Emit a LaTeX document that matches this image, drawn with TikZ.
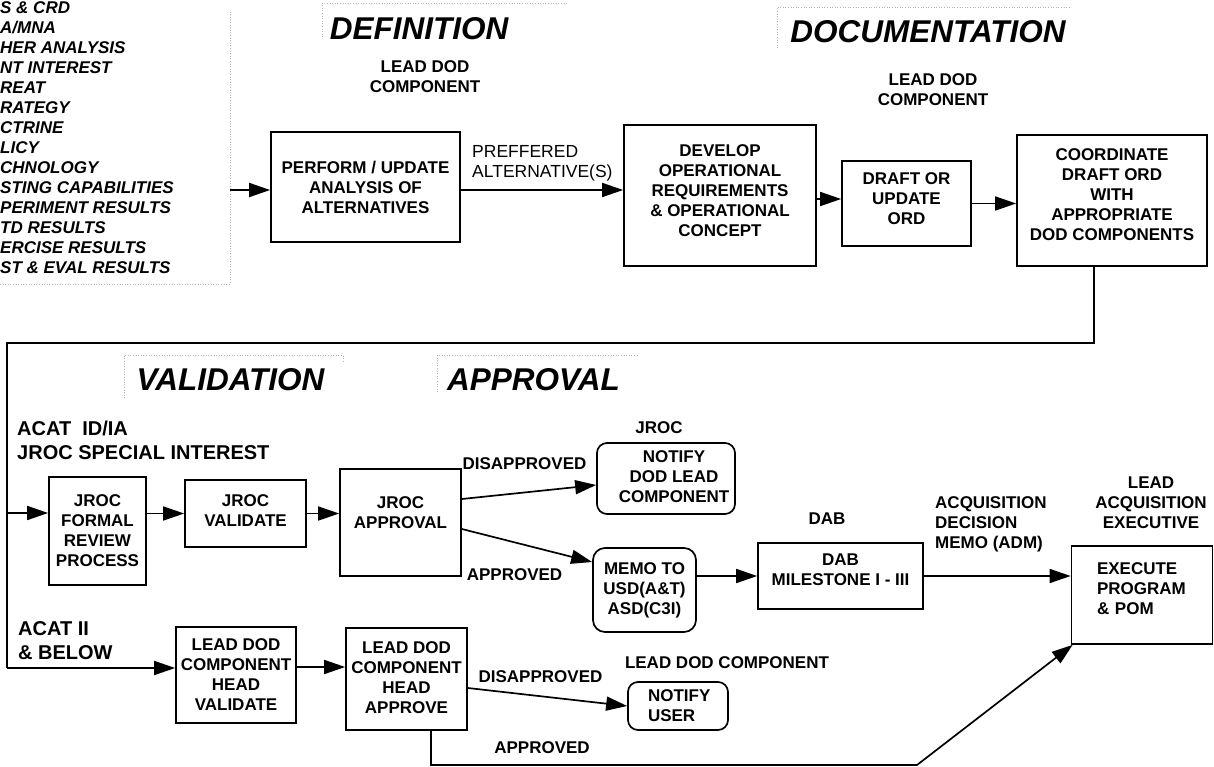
\documentclass[tikz,border=0pt]{standalone}
\usepackage{fontspec}
\setmainfont{Liberation Sans}
\usetikzlibrary{arrows.meta,calc}
\newcommand\mybxf{\fontsize{17}{20}\selectfont\bfseries}
\newcommand\myregf{\fontsize{17.5}{20}\selectfont}
\newcommand\mybigf{\fontsize{20}{24}\selectfont\bfseries}
\newcommand\myttlf{\fontsize{31.5}{36}\selectfont\bfseries\itshape}
\newcommand\mylstf{\fontsize{17}{20}\selectfont\bfseries\itshape}
\tikzset{
  box/.style={draw, line width=1.7pt, inner sep=0pt, align=center, font=\mybxf},
  rbox/.style={box, rounded corners=10pt},
  txtup/.style={execute at end node={\rule[-#1]{0pt}{0pt}}},
  lbl/.style={inner sep=0pt, align=center, font=\mybxf},
  arr/.style={line width=1.7pt, -{Triangle[length=21pt,width=14pt]}},
  ln/.style={line width=1.7pt},
  ttl/.style={inner sep=0pt, font=\myttlf},
  lst/.style={inner sep=0pt, font=\mylstf, anchor=base west},
  frm/.style={black!30, dotted, line width=0.6pt},
}
\begin{document}
\begin{tikzpicture}[x=1pt,y=-1pt]
\useasboundingbox (0,0) rectangle (1214,767);

% faint frames
\draw[frm] (0,284) -- (230,284) -- (230,12);
\draw[frm] (322,37) -- (322,3) -- (567,3);
\draw[frm] (777,48) -- (777,7) -- (1071,7);
\draw[frm] (124,398) -- (124,355) -- (343,355) -- (343,362);
\draw[frm] (437,392) -- (437,355) -- (637,355);

% input list (cut at the left edge)
\node[lst] (l1) at (0,13.3) {S \& CRD};
\node[lst] (l2) at (0,33.3) {A/MNA};
\node[lst] (l3) at (0,53.3) {HER ANALYSIS};
\node[lst] (l4) at (0,73.3) {NT INTEREST};
\node[lst] (l5) at (0,93.3) {REAT};
\node[lst] (l6) at (0,113.3) {RATEGY};
\node[lst] (l7) at (0,133.3) {CTRINE};
\node[lst] (l8) at (0,153.3) {LICY};
\node[lst] (l9) at (0,173.3) {CHNOLOGY};
\node[lst] (l10) at (0,193.3) {STING CAPABILITIES};
\node[lst] (l11) at (0,213.3) {PERIMENT RESULTS};
\node[lst] (l12) at (0,233.3) {TD RESULTS};
\node[lst] (l13) at (0,253.3) {ERCISE RESULTS};
\node[lst] (l14) at (0,273.3) {ST \& EVAL RESULTS};

% titles
\node[ttl] (tdef) at (419,28.5) {DEFINITION};
\node[ttl] (tdoc) at (928,32) {DOCUMENTATION};
\node[ttl] (tval) at (230.5,380) {VALIDATION};
\node[ttl] (tapp) at (533.5,380) {APPROVAL};

% top row
\node[box, minimum width=189pt, minimum height=110pt] (perf) at (365.5,187) {PERFORM / UPDATE\\ANALYSIS OF\\ALTERNATIVES};
\node[box, txtup=9pt, minimum width=192pt, minimum height=141pt] (dev) at (720,195.5) {DEVELOP\\OPERATIONAL\\REQUIREMENTS\\\& OPERATIONAL\\CONCEPT};
\node[box, txtup=9pt, minimum width=129pt, minimum height=85pt] (draft) at (906.5,203.5) {DRAFT OR\\UPDATE\\ORD};
\node[box, txtup=11pt, minimum width=190pt, minimum height=131pt] (coord) at (1112,200.5) {COORDINATE\\DRAFT ORD\\WITH\\APPROPRIATE\\DOD COMPONENTS};

% middle row
\node[box, minimum width=97pt, minimum height=108pt] (formal) at (97.5,531) {JROC\\FORMAL\\REVIEW\\PROCESS};
\node[box, txtup=5pt, minimum width=121pt, minimum height=67pt] (jval) at (245.5,513.5) {JROC\\VALIDATE};
\node[box, txtup=20pt, minimum width=121pt, minimum height=107pt] (jappr) at (400.5,522.5) {JROC\\APPROVAL};
\node[rbox, txtup=3pt, minimum width=138pt, minimum height=71pt] (notdod) at (666,478.5) {\hspace*{16pt}NOTIFY\\\hspace*{16pt}DOD LEAD\\\hspace*{16pt}COMPONENT};
\node[rbox, rounded corners=12pt, txtup=2pt, minimum width=103pt, minimum height=84pt] (memo) at (644.5,590) {MEMO TO\\USD(A\&T)\\ASD(C3I)};
\node[box, txtup=12pt, minimum width=165pt, minimum height=66pt] (dab) at (840.5,576) {DAB\\MILESTONE I - III};
\node[box, txtup=12pt, align=left, text width=90pt, minimum width=141pt, minimum height=98pt] (exec) at (1142,595) {EXECUTE\\PROGRAM\\\& POM};

% bottom row
\node[box, minimum width=120pt, minimum height=96pt] (lval) at (236,675) {LEAD DOD\\COMPONENT\\HEAD\\VALIDATE};
\node[box, txtup=2pt, minimum width=121pt, minimum height=102pt] (lappr) at (406.5,679) {LEAD DOD\\COMPONENT\\HEAD\\APPROVE};
\node[rbox, align=left, text width=60pt, minimum width=100pt, minimum height=48pt] (notuser) at (678,706) {NOTIFY\\USER};

% labels
\node[lbl] (ldc1) at (425,77) {LEAD DOD\\COMPONENT};
\node[lbl] (ldc2) at (933,90) {LEAD DOD\\COMPONENT};
\node[lbl, font=\myregf, anchor=west, align=left] (pref) at (472,163) {PREFFERED\\ALTERNATIVE(S)};
\node[lbl, font=\mybigf, anchor=west, align=left] (acat1) at (17,440) {ACAT\ \ ID/IA\\JROC SPECIAL INTEREST};
\node[lbl, font=\mybigf, anchor=west, align=left] (acat2) at (18,640.5) {ACAT II\\\& BELOW};
\node[lbl] (dis1) at (524.5,464) {DISAPPROVED};
\node[lbl] (app1) at (514.5,575) {APPROVED};
\node[lbl] (jrocl) at (659,428) {JROC};
\node[lbl] (dabl) at (827,519) {DAB};
\node[lbl, anchor=west, align=left] (adm) at (935,524) {ACQUISITION\\DECISION\\MEMO (ADM)};
\node[lbl] (lae) at (1151,503) {LEAD\\ACQUISITION\\EXECUTIVE};
\node[lbl] (ldc3) at (727,663) {LEAD DOD COMPONENT};
\node[lbl] (dis2) at (540.5,677) {DISAPPROVED};
\node[lbl] (app2) at (542,748) {APPROVED};

% coordinates for the routed lines
\coordinate (inlist) at (230,190);
\coordinate (lt) at (7,343);
\coordinate (lm) at (7,513);
\coordinate (lb) at (7,668);
\coordinate (bl) at (431,765);
\coordinate (br) at (917,765);

% connectors, top row
\draw[arr] (inlist) -- (inlist -| perf.west);
\draw[arr] ([yshift=-3pt]perf.east) -- ([yshift=-3pt]perf.east -| dev.west);
\draw[arr] ([yshift=-3.5pt]dev.east) -- ([yshift=-3.5pt]dev.east -| draft.west);
\draw[arr] (draft.east) -- (draft.east -| coord.west);
\draw[ln] ([xshift=-18pt]coord.south) |- (lt) -- (lb);

% middle row
\draw[arr] (lm) -- (lm -| formal.west);
\draw[arr] (jval.west -| formal.east) -- (jval.west);
\draw[arr] (jval.east) -- (jval.east -| jappr.west);
\draw[arr] ([yshift=23.5pt]jappr.east) -- ([yshift=-6.5pt]notdod.west);
\draw[arr] ([yshift=-6.5pt]jappr.east) -- ([yshift=28pt]memo.west);
\draw[arr] (dab.west -| memo.east) -- (dab.west);
\draw[arr] (dab.east) -- (dab.east -| exec.west);

% bottom row
\draw[arr] (lb) -- (lb -| lval.west);
\draw[arr] ([yshift=8pt]lval.east) -- ([yshift=8pt]lval.east -| lappr.west);
\draw[arr] ([yshift=-9pt]lappr.east) -- (notuser.west);
\draw[arr] ([xshift=24.5pt]lappr.south) -- (bl) -- (br) -- ([xshift=2pt]exec.south west);
\end{tikzpicture}
\end{document}
